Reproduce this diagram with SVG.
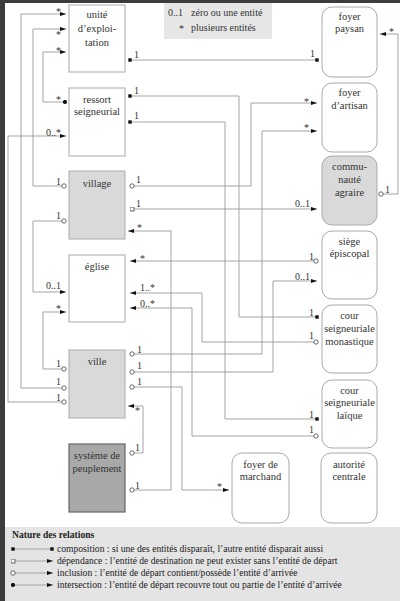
<svg xmlns="http://www.w3.org/2000/svg" width="400" height="601" viewBox="0 0 400 601">
<style>
.bx{fill:#fff;stroke:#aaa;stroke-width:1}
.g1{fill:#d9d9d9;stroke:#aaa;stroke-width:1}
.g2{fill:#a8a8a8;stroke:#666;stroke-width:1.2}
.t{font-family:"Liberation Serif","Times New Roman",serif;font-size:10.5px;fill:#333;text-anchor:middle}
.l{font-family:"Liberation Serif","Times New Roman",serif;font-size:10px;fill:#333}
.e{text-anchor:end}
.c{fill:none;stroke:#999;stroke-width:0.9}
.leg{font-family:"Liberation Serif","Times New Roman",serif;font-size:9.6px;fill:#222}
</style>
<defs>
<marker id="ar" markerUnits="userSpaceOnUse" viewBox="0 0 6 4" refX="6" refY="2" markerWidth="6" markerHeight="4" orient="auto"><path d="M0,0 L6,2 L0,4 z" fill="#111"/></marker>
<marker id="sf" markerUnits="userSpaceOnUse" viewBox="0 0 4 4" refX="2" refY="2" markerWidth="4" markerHeight="4"><rect x="0.3" y="0.3" width="3.4" height="3.4" fill="#111"/></marker>
<marker id="so" markerUnits="userSpaceOnUse" viewBox="0 0 5 5" refX="2.5" refY="2.5" markerWidth="5" markerHeight="5"><rect x="0.5" y="0.5" width="4" height="4" fill="#fff" stroke="#444" stroke-width="0.8"/></marker>
<marker id="co" markerUnits="userSpaceOnUse" viewBox="0 0 6 6" refX="3" refY="3" markerWidth="6" markerHeight="6"><circle cx="3" cy="3" r="2.2" fill="#fff" stroke="#444" stroke-width="0.8"/></marker>
<marker id="cf" markerUnits="userSpaceOnUse" viewBox="0 0 5 5" refX="2.5" refY="2.5" markerWidth="5" markerHeight="5"><circle cx="2.5" cy="2.5" r="2.1" fill="#111"/></marker>
</defs>

<rect x="0" y="0" width="400" height="601" fill="#3c3c3c"/>
<rect x="5" y="3" width="395" height="524" fill="#fff"/>
<rect x="5" y="527" width="395" height="74" fill="#e4e4e4"/>

<g id="legende-cardinalites">
<rect x="164" y="3" width="108" height="36" fill="#e6e6e6"/>
<text class="l" x="168" y="16">0..1</text>
<text class="l" x="191" y="16">zéro ou une entité</text>
<text class="l" x="179" y="32">*</text>
<text class="l" x="191" y="31">plusieurs entités</text>
</g>

<g id="connecteurs">
<path class="c" d="M130,60 H317" marker-start="url(#sf)" marker-end="url(#sf)"/>
<path class="c" d="M65,102 H43 V52 H66" marker-start="url(#cf)" marker-end="url(#ar)"/>
<path class="c" d="M64,186 H33 V29 H66" marker-start="url(#co)" marker-end="url(#ar)"/>
<path class="c" d="M64,388 H21 V14 H66" marker-start="url(#co)" marker-end="url(#ar)"/>
<path class="c" d="M64,402 H8 V136 H66" marker-start="url(#co)" marker-end="url(#ar)"/>
<path class="c" d="M64,221 H33 V292 H66" marker-start="url(#co)" marker-end="url(#ar)"/>
<path class="c" d="M64,369 H43 V312 H66" marker-start="url(#co)" marker-end="url(#ar)"/>
<path class="c" d="M132,209 H317" marker-start="url(#so)" marker-end="url(#ar)"/>
<path class="c" d="M132,490 H171 V231 H128" marker-start="url(#co)" marker-end="url(#ar)"/>
<path class="c" d="M316,261 H130" marker-start="url(#co)" marker-end="url(#ar)"/>
<path class="c" d="M316,342 H202 V293 H130" marker-start="url(#co)" marker-end="url(#ar)"/>
<path class="c" d="M316,436 H192 V308 H130" marker-start="url(#co)" marker-end="url(#ar)"/>
<path class="c" d="M132,372 H273 V281 H317" marker-start="url(#co)" marker-end="url(#ar)"/>
<path class="c" d="M132,354 H262 V131 H317" marker-start="url(#co)" marker-end="url(#ar)"/>
<path class="c" d="M132,186 H251 V103 H317" marker-start="url(#co)" marker-end="url(#ar)"/>
<path class="c" d="M130,96 H239 V317 H317" marker-start="url(#sf)" marker-end="url(#sf)"/>
<path class="c" d="M130,122 H225 V419 H317" marker-start="url(#sf)" marker-end="url(#sf)"/>
<path class="c" d="M132,387 H182 V490 H229" marker-start="url(#co)" marker-end="url(#ar)"/>
<path class="c" d="M132,453 H143 V406 H128" marker-start="url(#co)" marker-end="url(#ar)"/>
<path class="c" d="M381,194 H398 V34 H380" marker-start="url(#co)" marker-end="url(#ar)"/>

<text class="l" x="134" y="57.5">1</text>
<text class="l e" x="315" y="57">1</text>
<text class="l e" x="61" y="54">*</text>
<text class="l e" x="61" y="103">*</text>
<text class="l e" x="61" y="15">*</text>
<text class="l e" x="61" y="38">*</text>
<text class="l e" x="61" y="135.5">0..*</text>
<text class="l e" x="61" y="184.5">1</text>
<text class="l e" x="61" y="218.5">1</text>
<text class="l e" x="61" y="288.5">0..1</text>
<text class="l e" x="61" y="312">*</text>
<text class="l e" x="61" y="366.5">1</text>
<text class="l e" x="61" y="385">1</text>
<text class="l e" x="61" y="400.5">1</text>
<text class="l" x="134" y="94">1</text>
<text class="l" x="134" y="119">1</text>
<text class="l" x="136" y="183">1</text>
<text class="l" x="136" y="206.5">1</text>
<text class="l" x="137" y="231">*</text>
<text class="l" x="140" y="262">*</text>
<text class="l" x="140" y="290.5">1..*</text>
<text class="l" x="140" y="306.5">0..*</text>
<text class="l" x="137" y="352.5">1</text>
<text class="l" x="137" y="369">1</text>
<text class="l" x="137" y="384.5">1</text>
<text class="l" x="135" y="414">*</text>
<text class="l" x="135" y="451">1</text>
<text class="l" x="135" y="488.5">1</text>
<text class="l e" x="309" y="105">*</text>
<text class="l e" x="309" y="131">*</text>
<text class="l e" x="310" y="206.5">0..1</text>
<text class="l e" x="314" y="259.5">1</text>
<text class="l e" x="310" y="280">0..1</text>
<text class="l e" x="314" y="315.5">1</text>
<text class="l e" x="314" y="338.5">1</text>
<text class="l e" x="314" y="417.5">1</text>
<text class="l e" x="314" y="432.5">1</text>
<text class="l e" x="222" y="490">*</text>
<text class="l" x="385" y="193">1</text>
<text class="l" x="389" y="35">*</text>
</g>

<g id="unite-exploitation">
<rect class="bx" x="69" y="5" width="56" height="67"/>
<text class="t" x="97" y="18">unité</text>
<text class="t" x="97" y="32">d’exploi-</text>
<text class="t" x="97" y="46">tation</text>
</g>
<g id="ressort-seigneurial">
<rect class="bx" x="69" y="88" width="56" height="68"/>
<text class="t" x="97" y="103">ressort</text>
<text class="t" x="97" y="115">seigneurial</text>
</g>
<g id="village">
<rect class="g1" x="69" y="171" width="56" height="68"/>
<text class="t" x="97" y="187">village</text>
</g>
<g id="eglise">
<rect class="bx" x="69" y="255" width="56" height="67"/>
<text class="t" x="97" y="270">église</text>
</g>
<g id="ville">
<rect class="g1" x="69" y="350" width="56" height="68"/>
<text class="t" x="97" y="365">ville</text>
</g>
<g id="systeme-peuplement">
<rect class="g2" x="69" y="444" width="56" height="68"/>
<text class="t" x="97" y="459">système de</text>
<text class="t" x="97" y="472">peuplement</text>
</g>

<g id="foyer-paysan">
<rect class="bx" x="322" y="7" width="55" height="70" rx="10"/>
<text class="t" x="349.5" y="20">foyer</text>
<text class="t" x="349.5" y="32">paysan</text>
</g>
<g id="foyer-artisan">
<rect class="bx" x="322" y="83" width="55" height="69" rx="10"/>
<text class="t" x="349.5" y="96">foyer</text>
<text class="t" x="349.5" y="109">d’artisan</text>
</g>
<g id="communaute-agraire">
<rect class="g1" x="322" y="156" width="55" height="69" rx="10"/>
<text class="t" x="349.5" y="170">commu-</text>
<text class="t" x="349.5" y="183">nauté</text>
<text class="t" x="349.5" y="196">agraire</text>
</g>
<g id="siege-episcopal">
<rect class="bx" x="322" y="231" width="55" height="68" rx="10"/>
<text class="t" x="349.5" y="245">siège</text>
<text class="t" x="349.5" y="257">épiscopal</text>
</g>
<g id="cour-monastique">
<rect class="bx" x="322" y="305" width="55" height="68" rx="10"/>
<text class="t" x="349.5" y="319">cour</text>
<text class="t" x="349.5" y="332">seigneuriale</text>
<text class="t" x="349.5" y="345">monastique</text>
</g>
<g id="cour-laique">
<rect class="bx" x="322" y="380" width="55" height="68" rx="10"/>
<text class="t" x="349.5" y="394">cour</text>
<text class="t" x="349.5" y="406">seigneuriale</text>
<text class="t" x="349.5" y="419">laïque</text>
</g>
<g id="autorite-centrale">
<rect class="bx" x="321" y="453" width="56" height="70" rx="10"/>
<text class="t" x="349" y="468">autorité</text>
<text class="t" x="349" y="480">centrale</text>
</g>
<g id="foyer-marchand">
<rect class="bx" x="232" y="453" width="57" height="70" rx="10"/>
<text class="t" x="260.5" y="468">foyer de</text>
<text class="t" x="260.5" y="480">marchand</text>
</g>

<g id="legende-relations">
<text class="leg" x="12" y="538" font-weight="bold">Nature des relations</text>
<path class="c" d="M13,549 H52" stroke="#333" marker-start="url(#sf)" marker-end="url(#sf)"/>
<text class="leg" x="57" y="552">composition : si une des entités disparaît, l’autre entité disparait aussi</text>
<path class="c" d="M13,561 H53" stroke="#333" marker-start="url(#so)" marker-end="url(#ar)"/>
<text class="leg" x="57" y="564">dépendance : l’entité de destination ne peut exister sans l’entité de départ</text>
<path class="c" d="M13,573 H53" stroke="#333" marker-start="url(#co)" marker-end="url(#ar)"/>
<text class="leg" x="57" y="576">inclusion : l’entité de départ contient/possède l’entité d’arrivée</text>
<path class="c" d="M13,585 H53" stroke="#333" marker-start="url(#cf)" marker-end="url(#ar)"/>
<text class="leg" x="57" y="588">intersection : l’entité de départ recouvre tout ou partie de l’entité d’arrivée</text>
</g>
</svg>
